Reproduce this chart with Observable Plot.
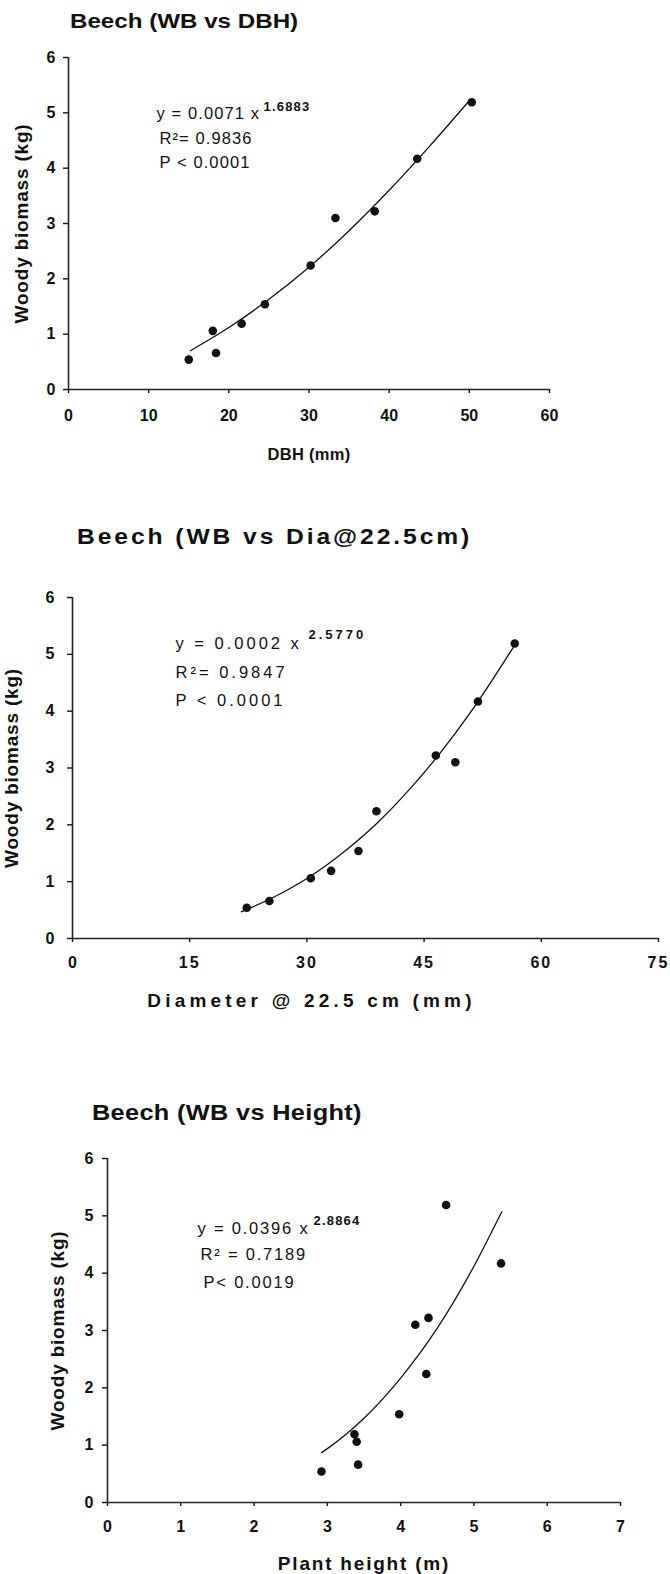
<!DOCTYPE html>
<html>
<head>
<meta charset="utf-8">
<script src="https://cdn.jsdelivr.net/npm/d3@7"></script>
<script src="https://cdn.jsdelivr.net/npm/@observablehq/plot@0.6"></script>
<style>
html, body { margin: 0; padding: 0; background: #fff; }
#wrap { position: relative; width: 670px; height: 1574px; overflow: hidden;
  font-family: "Liberation Sans", Arial, Helvetica, sans-serif; color: #111; }
.title { position: absolute; font-weight: bold; line-height: 1; white-space: nowrap; transform-origin: 0 50%; }
.panel { position: absolute; left: 0; }
</style>
</head>
<body>
<div id="wrap"></div>
<script>
// ---------- data ----------
const titles = ["Beech (WB vs DBH)", "Beech (WB vs Dia@22.5cm)", "Beech (WB vs Height)"];
const xLabels = ["DBH (mm)", "Diameter @ 22.5 cm (mm)", "Plant height (m)"];
const yLabel = "Woody biomass (kg)";

// one value per tree (same trees in all three panels)
const woodyBiomass = [0.54, 0.66, 1.06, 1.19, 1.54, 2.24, 3.10, 3.22, 4.17, 5.19];
const dbhMm        = [15.0, 18.4, 18.0, 21.6, 24.5, 30.2, 33.3, 38.2, 43.5, 50.3];
const dia225Mm     = [22.3, 25.2, 30.5, 33.1, 36.6, 38.9, 49.0, 46.5, 51.9, 56.6];
const heightM      = [2.92, 3.42, 3.40, 3.37, 3.98, 4.35, 4.20, 4.38, 5.37, 4.62];

// fitted curves, points
const fit1X = [15.2, 20, 25, 30, 35, 40, 45, 50.0];
const fit1Y = [0.70, 1.12, 1.63, 2.21, 2.87, 3.60, 4.39, 5.22];
const fit2X = [21.6, 25.8, 30.5, 34.6, 38.9, 43.3, 47.1, 51.0, 56.4];
const fit2Y = [0.47, 0.73, 1.10, 1.51, 2.02, 2.65, 3.27, 3.99, 5.12];
const fit3X = [2.92, 3.0, 3.5, 4.0, 4.5, 5.0, 5.38];
const fit3Y = [0.87, 0.94, 1.47, 2.17, 3.04, 4.12, 5.07];

// equation labels
const eqText  = ["y = 0.0071 x", "y = 0.0002 x", "y = 0.0396 x"];
const eqPower = ["1.6883", "2.5770", "2.8864"];
const r2Text  = ["R\u00B2= 0.9836", "R\u00B2= 0.9847", "R\u00B2 = 0.7189"];
const pText   = ["P < 0.0001", "P < 0.0001", "P< 0.0019"];

// ticks
const yTicks = [0, 1, 2, 3, 4, 5, 6];
const xTicks1 = [0, 10, 20, 30, 40, 50, 60];
const xTicks2 = [0, 15, 30, 45, 60, 75];
const xTicks3 = [0, 1, 2, 3, 4, 5, 6, 7];

// ---------- layout ----------
const panels = [
  { xs: dbhMm, fx: fit1X, fy: fit1Y, xTicks: xTicks1, xDomain: [0, 60],
    top: 0, height: 500, mt: 57, mb: 111, ml: 68, mr: 121, xPad: 16, yPad: 8, tickLs: 0,
    title: { left: 70, center: 20, size: 21, ls: 0, sx: 1.15 },
    eq: [88, 56], sup: [195, 49], r2: [91, 81.5], p: [91, 105], eqLs: 1.1, supLs: 1.2,
    ylDx: -47, xlDx: 0, xlDy: 65, xlSize: 16.5, xlLs: 0.3 },
  { xs: dia225Mm, fx: fit2X, fy: fit2Y, xTicks: xTicks2, xDomain: [0, 75],
    top: 500, height: 540, mt: 97, mb: 102, ml: 72, mr: 12, xPad: 14, yPad: 13, tickLs: 2,
    title: { left: 77, center: 537, size: 22, ls: 2.6, sx: 1.12 },
    eq: [103, 46], sup: [236, 37], r2: [103, 75], p: [103, 103], eqLs: 3, supLs: 3,
    ylDx: -61, xlDx: -54, xlDy: 62, xlSize: 19, xlLs: 4.2 },
  { xs: heightM, fx: fit3X, fy: fit3Y, xTicks: xTicks3, xDomain: [0, 7],
    top: 1050, height: 524, mt: 108, mb: 72, ml: 107, mr: 50, xPad: 14, yPad: 9, tickLs: 0,
    title: { left: 92, center: 1113, size: 22, ls: 0.3, sx: 1.15 },
    eq: [90, 70], sup: [206, 62], r2: [93, 96], p: [96, 124], eqLs: 1.8, supLs: 1.2,
    ylDx: -50, xlDx: 0, xlDy: 61, xlSize: 19, xlLs: 1.8 }
];

const wrap = document.getElementById("wrap");
const ink = "#111";

panels.forEach((cfg, k) => {
  const pts = woodyBiomass.map((w, i) => ({ x: cfg.xs[i], y: w }));
  const fit = cfg.fx.map((x, i) => ({ x, y: cfg.fy[i] }));
  const label = (txt, opts) =>
    Plot.text([txt], { text: d => d, fill: ink, lineAnchor: "middle", ...opts });

  const svg = Plot.plot({
    width: 670,
    height: cfg.height,
    marginTop: cfg.mt, marginBottom: cfg.mb, marginLeft: cfg.ml, marginRight: cfg.mr,
    style: { background: "transparent", fontFamily: "'Liberation Sans', Arial, sans-serif", color: ink, overflow: "visible" },
    x: { domain: cfg.xDomain },
    y: { domain: [0, 6] },
    marks: [
      Plot.axisX({ ticks: cfg.xTicks, tickFormat: d => String(d), tickSize: 4, tickPadding: cfg.xPad, fontSize: 16, fontWeight: "bold", label: null, strokeWidth: 1.4 }),
      Plot.axisY({ ticks: yTicks, tickFormat: d => String(d), tickSize: 5, tickPadding: cfg.yPad, fontSize: 16, fontWeight: "bold", label: null, strokeWidth: 1.4 }),
      Plot.ruleX([0], { strokeWidth: 1.6, stroke: "#222" }),
      Plot.ruleY([0], { strokeWidth: 1.6, stroke: "#222" }),
      Plot.line(fit, { x: "x", y: "y", curve: "monotone-x", stroke: ink, strokeWidth: 1.3 }),
      Plot.dot(pts, { x: "x", y: "y", r: 4.3, fill: ink, stroke: "none" }),
      label(eqText[k], { frameAnchor: "top-left", textAnchor: "start", dx: cfg.eq[0], dy: cfg.eq[1], fontSize: 16.5 }),
      label(eqPower[k], { frameAnchor: "top-left", textAnchor: "start", dx: cfg.sup[0], dy: cfg.sup[1], fontSize: 13, fontWeight: "bold" }),
      label(r2Text[k], { frameAnchor: "top-left", textAnchor: "start", dx: cfg.r2[0], dy: cfg.r2[1], fontSize: 16.5 }),
      label(pText[k], { frameAnchor: "top-left", textAnchor: "start", dx: cfg.p[0], dy: cfg.p[1], fontSize: 16.5 }),
      label(yLabel, { frameAnchor: "left", textAnchor: "middle", rotate: -90, dx: cfg.ylDx, fontSize: 19, fontWeight: "bold" }),
      label(xLabels[k], { frameAnchor: "bottom", textAnchor: "middle", dx: cfg.xlDx, dy: cfg.xlDy, fontSize: cfg.xlSize, fontWeight: "bold" })
    ]
  });

  // letter spacing of the scanned lettering
  const spacing = new Map([
    [eqText[k], cfg.eqLs], [r2Text[k], cfg.eqLs], [pText[k], cfg.eqLs],
    [eqPower[k], cfg.supLs], [yLabel, 0.8], [xLabels[k], cfg.xlLs]
  ]);
  d3.select(svg).selectAll("text").each(function () {
    const txt = this.textContent;
    if (spacing.has(txt)) this.style.letterSpacing = spacing.get(txt) + "px";
    else if (cfg.tickLs && /^\d\d$/.test(txt)) this.style.letterSpacing = cfg.tickLs + "px";
  });

  svg.classList.add("panel");
  svg.style.top = cfg.top + "px";
  wrap.appendChild(svg);

  const t = document.createElement("div");
  t.className = "title";
  t.textContent = titles[k];
  t.style.fontSize = cfg.title.size + "px";
  t.style.left = cfg.title.left + "px";
  t.style.top = (cfg.title.center - cfg.title.size * 0.4885) + "px";
  t.style.letterSpacing = cfg.title.ls + "px";
  t.style.transform = `scaleX(${cfg.title.sx})`;
  wrap.appendChild(t);
});
</script>
</body>
</html>
